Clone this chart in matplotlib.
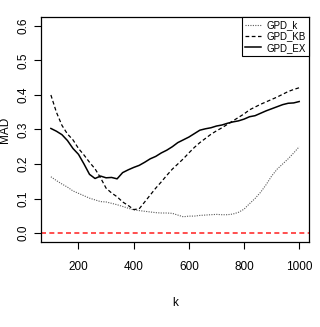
import matplotlib
matplotlib.use("Agg")
import matplotlib.pyplot as plt
from matplotlib import font_manager

k = list(range(100, 1001, 20))

gpd_k = [0.163, 0.152, 0.142, 0.133, 0.122, 0.115, 0.108, 0.101, 0.096, 0.091,
         0.090, 0.086, 0.082, 0.077, 0.072, 0.067, 0.065, 0.063, 0.061, 0.059,
         0.058, 0.058, 0.057, 0.052, 0.047, 0.049, 0.049, 0.051, 0.052, 0.053,
         0.054, 0.053, 0.053, 0.055, 0.060, 0.069, 0.085, 0.100, 0.118, 0.140,
         0.165, 0.185, 0.200, 0.215, 0.232, 0.250]

gpd_kb = [0.400, 0.350, 0.312, 0.287, 0.270, 0.245, 0.226, 0.205, 0.186, 0.160,
          0.130, 0.116, 0.105, 0.090, 0.080, 0.068, 0.070, 0.090, 0.110, 0.130,
          0.148, 0.167, 0.185, 0.200, 0.215, 0.232, 0.248, 0.262, 0.274, 0.286,
          0.296, 0.305, 0.315, 0.325, 0.335, 0.345, 0.357, 0.365, 0.373, 0.380,
          0.387, 0.394, 0.402, 0.410, 0.416, 0.421]

gpd_ex = [0.303, 0.295, 0.285, 0.268, 0.245, 0.228, 0.200, 0.170, 0.158, 0.165,
          0.160, 0.161, 0.157, 0.175, 0.183, 0.190, 0.196, 0.205, 0.215, 0.222,
          0.232, 0.240, 0.250, 0.262, 0.270, 0.278, 0.288, 0.298, 0.302, 0.305,
          0.310, 0.313, 0.318, 0.322, 0.325, 0.330, 0.337, 0.340, 0.347, 0.354,
          0.360, 0.366, 0.372, 0.376, 0.377, 0.381]

names = [f.name for f in font_manager.fontManager.ttflist]
fam = ["Liberation Sans Narrow"] if "Liberation Sans Narrow" in names else []
plt.rcParams["font.family"] = fam + ["Liberation Sans", "DejaVu Sans"]

fig = plt.figure(figsize=(3.2, 3.27), dpi=100)
ax = fig.add_axes([0.128, 0.26, 0.838, 0.688])

ax.plot(k, gpd_k, color="0.35", lw=0.8, ls=(0, (1, 1.2)), label="GPD_k")
ax.plot(k, gpd_kb, color="black", lw=0.9, ls=(0, (3, 2)), label="GPD_KB")
ax.plot(k, gpd_ex, color="black", lw=1.1, label="GPD_EX")
ax.axhline(0, color="#ff3030", lw=1.2, ls=(0, (3, 2)))

ax.set_xlim(64, 1036)
ax.set_ylim(-0.026, 0.626)
ax.set_xticks([200, 400, 600, 800, 1000])
ax.set_yticks([0.0, 0.1, 0.2, 0.3, 0.4, 0.5, 0.6])
ax.set_yticklabels(["0.0", "0.1", "0.2", "0.3", "0.4", "0.5", "0.6"],
                   rotation=90, va="center")
ax.tick_params(length=5, width=0.8, labelsize=8.5)
ax.tick_params(axis="x", pad=9)
ax.tick_params(axis="y", pad=3)
for s in ax.spines.values():
    s.set_linewidth(0.9)

ax.set_xlabel("k", fontsize=8.5)
ax.set_ylabel("MAD", fontsize=8.5)
ax.xaxis.set_label_coords(0.5, -0.245)
ax.yaxis.set_label_coords(-0.112, 0.5)

leg = ax.legend(loc="upper right", borderaxespad=0, fancybox=False,
                framealpha=1, edgecolor="black", fontsize=7,
                handlelength=1.7, labelspacing=0.12, borderpad=0.35,
                handletextpad=0.5)
leg.get_frame().set_linewidth(0.8)

fig.savefig("out.png", dpi=100)
